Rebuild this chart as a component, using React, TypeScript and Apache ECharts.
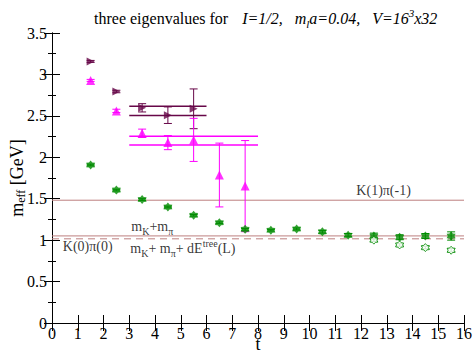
import { useEffect, useRef } from 'react';
import * as echarts from 'echarts';

const FONT = 'Liberation Serif';

// ---- data ----
const tGreen = [1.5, 2.5, 3.5, 4.5, 5.5, 6.5, 7.5, 8.5, 9.5, 10.5, 11.5, 12.5, 13.5, 14.5, 15.5];
const greenVals = [1.907, 1.604, 1.49, 1.4, 1.3, 1.21, 1.13, 1.12, 1.135, 1.1, 1.06, 1.05, 1.035, 1.05, 1.05];
const greenErr = [0.01, 0.01, 0.01, 0.01, 0.01, 0.01, 0.01, 0.01, 0.012, 0.015, 0.02, 0.035, 0.03, 0.03, 0.05];

const tOpen = [12.5, 13.5, 14.5, 15.5];
const openVals = [1.0, 0.942, 0.91, 0.878];
const openErr = [0.015, 0.015, 0.015, 0.02];

const tDark = [1.5, 2.5, 3.5, 4.5, 5.5];
const darkVals = [3.157, 2.794, 2.597, 2.508, 2.585];
const darkErr = [0.012, 0.015, 0.05, 0.1, 0.24];

const tMag = [1.5, 2.5, 3.5, 4.5, 5.5, 6.5, 7.5];
const magVals = [2.928, 2.56, 2.29, 2.177, 2.21, 1.786, 1.652];
const magErr = [0.012, 0.02, 0.05, 0.085, 0.26, 0.385, 0.55];

const darkFitRange = [3, 6];
const darkFits = [2.617, 2.504];
const magFitRange = [3, 8];
const magFits = [2.254, 2.149];

const levelK1Pi = 1.482;
const levelMKMPi = 1.051;
const levelMKMPiDE = 1.016;

const xRange = [0, 16];
const yRange = [0, 3.5];

const annotations = [
  { text: 'K(1)π(-1)', t: 11.82, y: 1.6 },
  { text: '{n|m}{sub|K}{n|+m}{sub|π}', t: 3.08, y: 1.17 },
  { text: 'K(0)π(0)', t: 0.42, y: 0.925 },
  { text: '{n|m}{sub|K}{n|+ m}{sub|π}{n|+ dE}{sup|tree}{n|(L)}', t: 3.04, y: 0.9 },
];

// ---- styles ----
const DARK = '#670748';
const MAG = '#ff00ff';
const GREEN = '#008b00';
const LEVEL = '#bd7f7f';

function starPath(inner: number) {
  const pts: string[] = [];
  for (let k = 0; k < 12; k++) {
    const a = ((-90 + k * 30) * Math.PI) / 180;
    const r = k % 2 === 0 ? 10 : 10 * inner;
    pts.push(`${(r * Math.cos(a)).toFixed(2)},${(r * Math.sin(a)).toFixed(2)}`);
  }
  return 'path://M' + pts.join('L') + 'Z';
}
const STAR = starPath(0.65);
const RIGHT_TRI = 'path://M0,0L10,5L0,10Z';

function errorSeries(ts: number[], vals: number[], errs: number[], color: string) {
  return {
    type: 'custom',
    silent: true,
    z: 2,
    data: ts.map((t, i) => [t, vals[i] - errs[i], vals[i] + errs[i]]),
    encode: { x: 0, y: [1, 2] },
    renderItem: (_p: any, api: any) => {
      const lo = api.coord([api.value(0), api.value(1)]);
      const hi = api.coord([api.value(0), api.value(2)]);
      const w = 4;
      const st = { stroke: color, lineWidth: 1 };
      return {
        type: 'group',
        children: [
          { type: 'line', shape: { x1: lo[0], y1: lo[1], x2: hi[0], y2: hi[1] }, style: st },
          { type: 'line', shape: { x1: lo[0] - w, y1: lo[1], x2: lo[0] + w, y2: lo[1] }, style: st },
          { type: 'line', shape: { x1: hi[0] - w, y1: hi[1], x2: hi[0] + w, y2: hi[1] }, style: st },
        ],
      };
    },
  };
}

function hLine(x0: number, x1: number, v: number, color: string, width: number, type: any = 'solid') {
  return {
    type: 'line',
    silent: true,
    symbol: 'none',
    z: 1,
    data: [[x0, v], [x1, v]],
    lineStyle: { color, width, type },
  };
}

const base = { fontFamily: FONT, color: '#000', fontWeight: 'normal' };
const richSmall = {
  n: { ...base, fontSize: 14, lineHeight: 20, verticalAlign: 'middle' },
  sub: { ...base, fontSize: 10, lineHeight: 10, verticalAlign: 'bottom' },
  sup: { ...base, fontSize: 10, lineHeight: 10, verticalAlign: 'top' },
};

export default function App() {
  const ref = useRef<HTMLDivElement>(null);
  useEffect(() => {
    if (!ref.current) return;
    const chart = echarts.init(ref.current, undefined, { renderer: 'svg' });
    const axisCommon = {
      type: 'value',
      axisLine: { show: true, lineStyle: { color: '#000', width: 1 } },
      splitLine: { show: false },
    };
    const tickLabel = { ...base, fontSize: 16 };
    const it = { ...base, fontStyle: 'italic', fontSize: 16, lineHeight: 22 };
    chart.setOption({
      animation: false,
      backgroundColor: '#fff',
      title: {
        left: 89,
        top: 2,
        text: '{r|three eigenvalues for}{i|I=1/2,}{ig|m}{isub|l}{i0|a=0.04,}{ig|V=16}{isup|3}{i0|x32}',
        textStyle: {
          ...base,
          fontSize: 16,
          rich: {
            r: { ...base, fontSize: 16, lineHeight: 22 },
            i: { ...it, padding: [0, 0, 0, 14] },
            ig: { ...it, padding: [0, 0, 0, 12] },
            i0: { ...it },
            isub: { ...base, fontStyle: 'italic', fontSize: 11, lineHeight: 11, verticalAlign: 'bottom' },
            isup: { ...base, fontStyle: 'italic', fontSize: 11, lineHeight: 11, verticalAlign: 'top' },
          },
        },
      },
      grid: { left: 52, right: 10, top: 33, bottom: 31, containLabel: false, outerBoundsMode: 'none' },
      xAxis: [
        {
          ...axisCommon,
          position: 'bottom',
          min: xRange[0],
          max: xRange[1],
          interval: 1,
          axisTick: { show: true, inside: true, length: 8, lineStyle: { color: '#000' } },
          axisLabel: { show: true, margin: 3, ...tickLabel, lineHeight: 14 },
          name: 't',
          nameLocation: 'middle',
          nameGap: 15,
          nameMoveOverlap: false,
          nameTextStyle: { ...base, fontSize: 18, lineHeight: 12 },
        },
        {
          ...axisCommon,
          position: 'top',
          min: xRange[0],
          max: xRange[1],
          interval: 1,
          axisTick: { show: true, inside: true, length: 8, lineStyle: { color: '#000' } },
          axisLabel: { show: false },
        },
      ],
      yAxis: [
        {
          ...axisCommon,
          position: 'left',
          min: yRange[0],
          max: yRange[1],
          interval: 0.5,
          axisTick: { show: true, inside: true, length: 8, lineStyle: { color: '#000' } },
          minorTick: { show: true, splitNumber: 2, length: 4, lineStyle: { color: '#000' } },
          axisLabel: { show: true, margin: 5, ...tickLabel },
          name: '{m|m}{s|eff}{m| [GeV]}',
          nameLocation: 'middle',
          nameRotate: 90,
          nameGap: 25,
          nameMoveOverlap: false,
          nameTextStyle: {
            rich: {
              m: { ...base, fontSize: 18, lineHeight: 20, verticalAlign: 'middle' },
              s: { ...base, fontSize: 12, lineHeight: 12, verticalAlign: 'bottom' },
            },
          },
        },
        {
          ...axisCommon,
          position: 'right',
          min: yRange[0],
          max: yRange[1],
          interval: 0.5,
          axisTick: { show: true, inside: true, length: 8, lineStyle: { color: '#000' } },
          minorTick: { show: true, splitNumber: 2, length: 4, lineStyle: { color: '#000' } },
          axisLabel: { show: false },
        },
      ],
      series: [
        hLine(xRange[0], xRange[1], levelK1Pi, LEVEL, 1),
        hLine(xRange[0], xRange[1], levelMKMPi, LEVEL, 1),
        hLine(xRange[0], xRange[1], levelMKMPiDE, LEVEL, 1, [7, 5]),
        ...darkFits.map((v) => hLine(darkFitRange[0], darkFitRange[1], v, DARK, 1.5)),
        ...magFits.map((v) => hLine(magFitRange[0], magFitRange[1], v, MAG, 1.5)),
        errorSeries(tDark, darkVals, darkErr, DARK),
        errorSeries(tMag, magVals, magErr, MAG),
        errorSeries(tGreen, greenVals, greenErr, GREEN),
        errorSeries(tOpen, openVals, openErr, GREEN),
        {
          type: 'scatter',
          silent: true,
          z: 3,
          symbol: RIGHT_TRI,
          symbolSize: 8,
          itemStyle: { color: DARK },
          data: tDark.map((t, i) => [t, darkVals[i]]),
        },
        {
          type: 'scatter',
          silent: true,
          z: 3,
          symbol: 'triangle',
          symbolSize: 9,
          itemStyle: { color: MAG },
          data: tMag.map((t, i) => [t, magVals[i]]),
        },
        {
          type: 'scatter',
          silent: true,
          z: 3,
          symbol: STAR,
          symbolSize: 9,
          itemStyle: { color: GREEN },
          data: tGreen.map((t, i) => [t, greenVals[i]]),
        },
        {
          type: 'scatter',
          silent: true,
          z: 3,
          symbol: STAR,
          symbolSize: 8,
          itemStyle: { color: '#fff', borderColor: GREEN, borderWidth: 1 },
          data: tOpen.map((t, i) => [t, openVals[i]]),
        },
        {
          type: 'scatter',
          silent: true,
          z: 4,
          symbolSize: 0,
          data: annotations.map((a) => ({
            value: [a.t, a.y],
            label: {
              show: true,
              position: 'inside',
              align: 'left',
              verticalAlign: 'middle',
              formatter: a.text,
              fontSize: 14,
              fontFamily: FONT,
              color: '#000',
              rich: richSmall,
            },
          })),
        },
      ],
    });
    return () => chart.dispose();
  }, []);
  return <div ref={ref} style={{ width: 474, height: 354, position: 'absolute', left: 0, top: 0 }} />;
}
